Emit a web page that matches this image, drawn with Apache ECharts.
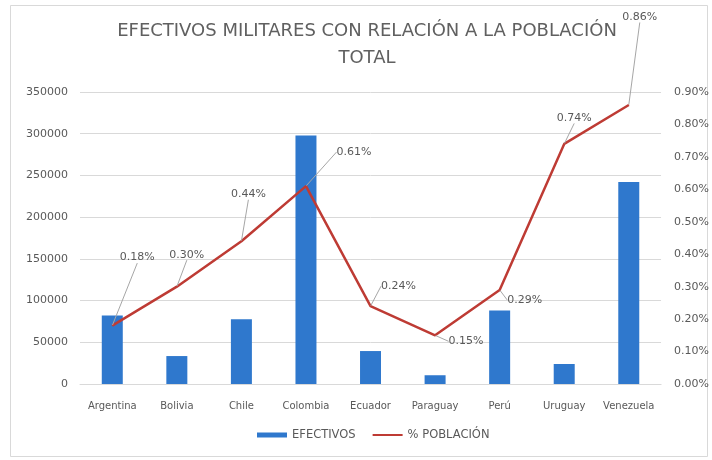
<!DOCTYPE html>
<html>
<head>
<meta charset="utf-8">
<script src="https://cdn.jsdelivr.net/npm/echarts@6/dist/echarts.min.js"></script>
<style>
  html, body { margin: 0; padding: 0; background: #fff; }
  #chart { width: 712px; height: 460px; }
</style>
</head>
<body>
<div id="chart"></div>
<script>
// Países (eje de categorías)
const paises = ['Argentina', 'Bolivia', 'Chile', 'Colombia', 'Ecuador', 'Paraguay', 'Perú', 'Uruguay', 'Venezuela'];
// Efectivos militares por país
const efectivos = [82000, 33500, 77500, 298000, 39500, 10500, 88000, 24000, 242000];
// Efectivos como porcentaje de la población total
const porcentajePoblacion = [0.18, 0.30, 0.44, 0.61, 0.24, 0.15, 0.29, 0.74, 0.86];

// Desplazamiento de cada etiqueta de porcentaje respecto a su punto
const desplazamientoEtiquetas = [
  [25, -68], [10, -32], [7, -47], [48, -34], [28, -20],
  [31, 6], [25, 10], [10, -26], [11, -88]
];

const gris = '#595959';
const fuente = '"DejaVu Sans", sans-serif';

const chart = echarts.init(document.getElementById('chart'), null, { renderer: 'canvas' });

chart.setOption({
  backgroundColor: '#ffffff',
  animation: false,
  textStyle: { fontFamily: fuente },
  graphic: [{
    type: 'rect',
    shape: { x: 10.5, y: 5.5, width: 697, height: 451 },
    style: { fill: 'none', stroke: '#d9d9d9', lineWidth: 1 },
    silent: true,
    z: -1
  }],
  title: {
    text: 'EFECTIVOS MILITARES CON RELACIÓN A LA POBLACIÓN\nTOTAL',
    left: 362,
    textAlign: 'center',
    top: 13,
    textStyle: {
      fontFamily: fuente,
      fontSize: 18,
      fontWeight: 'normal',
      color: '#606060',
      lineHeight: 27
    }
  },
  legend: {
    bottom: 14,
    left: 252,
    itemWidth: 30,
    itemHeight: 5,
    itemGap: 16,
    textStyle: { color: gris, fontSize: 11.5, fontFamily: fuente },
    data: [
      { name: 'EFECTIVOS', icon: 'rect' },
      { name: '% POBLACIÓN', itemStyle: { opacity: 0 } }
    ]
  },
  grid: { left: 80, right: 50, top: 92, bottom: 76 },
  xAxis: {
    type: 'category',
    data: paises,
    axisLine: { lineStyle: { color: '#d9d9d9' } },
    axisTick: { show: false },
    axisLabel: { color: gris, fontSize: 10, margin: 17, interval: 0 }
  },
  yAxis: [
    {
      type: 'value',
      min: 0,
      max: 350000,
      interval: 50000,
      axisLine: { show: false },
      axisTick: { show: false },
      axisLabel: { color: gris, fontSize: 11, margin: 12, formatter: v => String(v) },
      splitLine: { lineStyle: { color: '#d9d9d9', width: 1 } }
    },
    {
      type: 'value',
      min: 0,
      max: 0.9,
      interval: 0.1,
      axisLine: { show: false },
      axisTick: { show: false },
      splitLine: { show: false },
      axisLabel: {
        color: gris,
        fontSize: 11,
        margin: 13,
        formatter: v => v.toFixed(2) + '%'
      }
    }
  ],
  series: [
    {
      name: 'EFECTIVOS',
      type: 'bar',
      data: efectivos,
      barWidth: 21,
      itemStyle: { color: '#2f78cd' },
      z: 2
    },
    {
      name: '% POBLACIÓN',
      type: 'line',
      yAxisIndex: 1,
      data: porcentajePoblacion,
      symbol: 'circle',
      symbolSize: 1,
      showSymbol: true,
      lineStyle: { color: '#be3b34', width: 2.5 },
      itemStyle: { color: '#be3b34' },
      z: 3,
      label: {
        show: true,
        position: 'inside',
        color: gris,
        fontSize: 11,
        fontFamily: fuente,
        formatter: p => p.value.toFixed(2) + '%'
      },
      labelLine: {
        show: true,
        lineStyle: { color: '#a6a6a6', width: 1 }
      },
      labelLayout: p => ({
        dx: desplazamientoEtiquetas[p.dataIndex][0],
        dy: desplazamientoEtiquetas[p.dataIndex][1]
      })
    }
  ]
});
</script>
</body>
</html>
